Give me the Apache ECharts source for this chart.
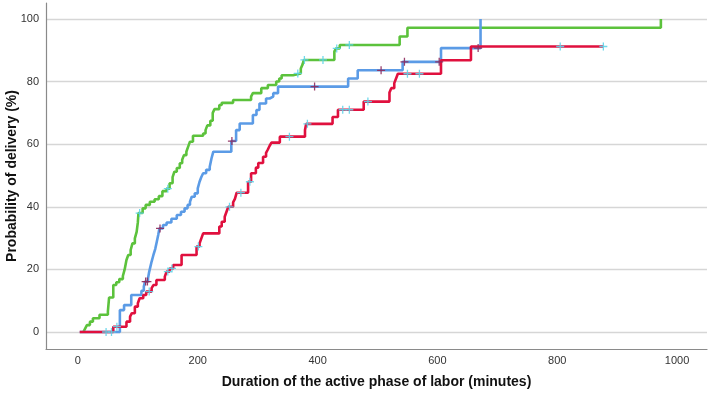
<!DOCTYPE html>
<html>
<head>
<meta charset="utf-8">
<script src="https://cdn.jsdelivr.net/npm/echarts@6/dist/echarts.min.js"></script>
<style>
  html, body { margin: 0; padding: 0; background: #fff; }
  #chart { width: 709px; height: 394px; }
</style>
</head>
<body>
<div id="chart"></div>
<script>
// ============================================================
// Kaplan-Meier style cumulative delivery curves (3 groups)
// ============================================================

var X_TICKS = [0, 200, 400, 600, 800, 1000];
var Y_TICKS = [0, 20, 40, 60, 80, 100];

// green group: event times (min) and cumulative probability (%)
var greenTime = [9, 12, 15, 20, 25, 36, 50, 52, 59, 64, 69, 75, 78, 81, 84, 88, 91, 95, 98, 100, 101, 108, 113, 120, 128, 135, 141, 148, 153, 158, 161, 165, 170, 174, 177, 181, 184, 187, 192, 209, 213, 216, 221, 225, 228, 236, 240, 259, 289, 292, 306, 317, 331, 336, 340, 359, 372, 375, 377, 428, 431, 437, 537, 550, 973];
var greenProb = [0, 1.1, 2.2, 3.3, 4.4, 5.5, 6.6, 11, 15, 15.9, 16.9, 17.9, 20, 23, 24.6, 26.2, 28.3, 29.9, 32, 35, 38, 39.5, 40.6, 41.6, 42.4, 43.4, 45, 45.8, 47.5, 49.5, 51.2, 52.4, 53.9, 55, 56.5, 57.6, 59.2, 60.8, 62.7, 63.4, 64.5, 66, 67.5, 70, 71.2, 72.5, 73.2, 74.1, 75.2, 76.3, 77.9, 78.9, 80, 81, 82, 82.6, 84.2, 85.5, 86.9, 89.6, 90.6, 91.7, 94.4, 97.2, 100];
var greenCensor = [103, 150, 367, 378, 409, 432, 453];

// blue group
var blueTime = [3, 70, 77, 89, 106, 110, 112, 117, 119, 121, 123, 126, 129, 131, 134, 136, 142, 148, 156, 165, 172, 178, 183, 187, 190, 195, 200, 203, 206, 209, 214, 220, 223, 226, 256, 264, 270, 292, 298, 303, 314, 320, 326, 334, 451, 467, 542, 606, 672];
var blueProb = [0, 7, 8.6, 11.8, 13.2, 14.5, 16.1, 17.2, 19.3, 20.9, 22.5, 24.6, 26.5, 28.3, 31, 33.1, 34.2, 35, 36.2, 37.4, 38.4, 39.5, 40.6, 41.6, 43.2, 44.3, 45.9, 48, 49.5, 50.7, 51.8, 52.8, 55.5, 57.6, 61, 64.5, 66.6, 69.3, 70.9, 73, 74.6, 75.2, 76.3, 78.4, 81, 83.6, 86.3, 90.7, 100];
var blueCensor = [113, 116, 137, 257, 395, 506, 545, 603, 668];

// red group
var redTime = [3, 59, 81, 87, 90, 95, 100, 103, 109, 114, 123, 126, 131, 145, 148, 153, 159, 173, 198, 203, 206, 209, 236, 240, 245, 248, 251, 259, 262, 265, 284, 289, 297, 301, 309, 314, 317, 320, 323, 337, 379, 381, 425, 434, 477, 520, 523, 528, 531, 534, 606, 656, 877];
var redProb = [0, 1.7, 3.3, 4.9, 6, 8.1, 9.2, 10.8, 11.8, 12.9, 14, 15, 16.6, 17.7, 19.3, 20.3, 21.4, 24.6, 27.3, 28.3, 29.9, 31.5, 33.7, 35.2, 36.8, 38.4, 40, 41.4, 42.5, 44.5, 48, 50.7, 52.5, 54, 56, 57.2, 58.3, 59.5, 60.5, 62.4, 64.5, 66.5, 68.7, 71, 73.6, 76.5, 77.9, 79.5, 81, 82.5, 86.8, 91.2, 91.2];
var redCensor = [47, 56, 65, 119, 150, 157, 201, 253, 272, 287, 353, 383, 442, 453, 484, 550, 570, 805, 877];

var GREEN = '#5cc23c';
var BLUE = '#5b9be6';
var RED = '#e0103e';
var CYAN = '#5fd4ea';
var PURPLE = '#8e2a5c';
var PLUS = 'path://M4.2,0H5.8V4.2H10V5.8H5.8V10H4.2V5.8H0V4.2H4.2Z';

function zipPoints(times, probs) {
  return times.map(function(t, i) { return [t, probs[i]]; });
}

// censored marks sit on the curve at the value in force at that time
function censorPoints(censor, times, probs) {
  return censor.map(function(c) {
    var p = 0;
    for (var i = 0; i < times.length; i++) {
      if (times[i] <= c) p = probs[i];
    }
    return [c, p];
  });
}

function stepSeries(name, times, probs, color) {
  return {
    name: name,
    type: 'line',
    step: 'end',
    showSymbol: false,
    data: zipPoints(times, probs),
    lineStyle: { color: color, width: 2.6 },
    animation: false,
    z: 2,
  };
}

function censorSeries(name, censor, times, probs, color) {
  return {
    name: name,
    type: 'scatter',
    symbol: PLUS,
    symbolSize: 8,
    data: censorPoints(censor, times, probs),
    itemStyle: { color: color, opacity: 0.9 },
    animation: false,
    z: 3,
  };
}

var chart = echarts.init(document.getElementById('chart'));

var labelFont = { fontFamily: 'Liberation Sans, Arial, sans-serif', fontSize: 11, color: '#333' };
var nameFont = { fontFamily: 'Liberation Sans, Arial, sans-serif', fontSize: 14, fontWeight: 'bold', color: '#111' };

chart.setOption({
  backgroundColor: '#fff',
  grid: { left: 46, right: 2, top: 3, bottom: 45, containLabel: false, outerBoundsMode: 'none' },
  xAxis: {
    type: 'value',
    min: -53.3,
    max: 1050,
    name: 'Duration of the active phase of labor (minutes)',
    nameLocation: 'middle',
    nameGap: 26,
    nameMoveOverlap: false,
    nameTextStyle: nameFont,
    axisLine: { onZero: false, lineStyle: { color: '#8a8a8a', width: 1.2 } },
    axisTick: { show: false, customValues: X_TICKS },
    axisLabel: Object.assign({
      customValues: X_TICKS,
      margin: 6,
      formatter: function(v) { return String(v); },
    }, labelFont),
    splitLine: { show: false },
  },
  yAxis: {
    type: 'value',
    min: -5.43,
    max: 105.1,
    name: 'Probability of delivery (%)',
    nameLocation: 'middle',
    nameGap: 27,
    nameMoveOverlap: false,
    nameTextStyle: nameFont,
    axisLine: { show: true, onZero: false, lineStyle: { color: '#8a8a8a', width: 1.2 } },
    axisTick: { show: false, customValues: Y_TICKS },
    axisLabel: Object.assign({ customValues: Y_TICKS, margin: 7 }, labelFont),
    splitLine: { show: true, lineStyle: { color: '#d6d6d6', width: 1.4 } },
  },
  series: [
    stepSeries('Green', greenTime, greenProb, GREEN),
    stepSeries('Blue', blueTime, blueProb, BLUE),
    stepSeries('Red', redTime, redProb, RED),
    censorSeries('Green censored', greenCensor, greenTime, greenProb, CYAN),
    censorSeries('Blue censored', blueCensor, blueTime, blueProb, PURPLE),
    censorSeries('Red censored', redCensor, redTime, redProb, CYAN),
  ],
});
</script>
</body>
</html>
